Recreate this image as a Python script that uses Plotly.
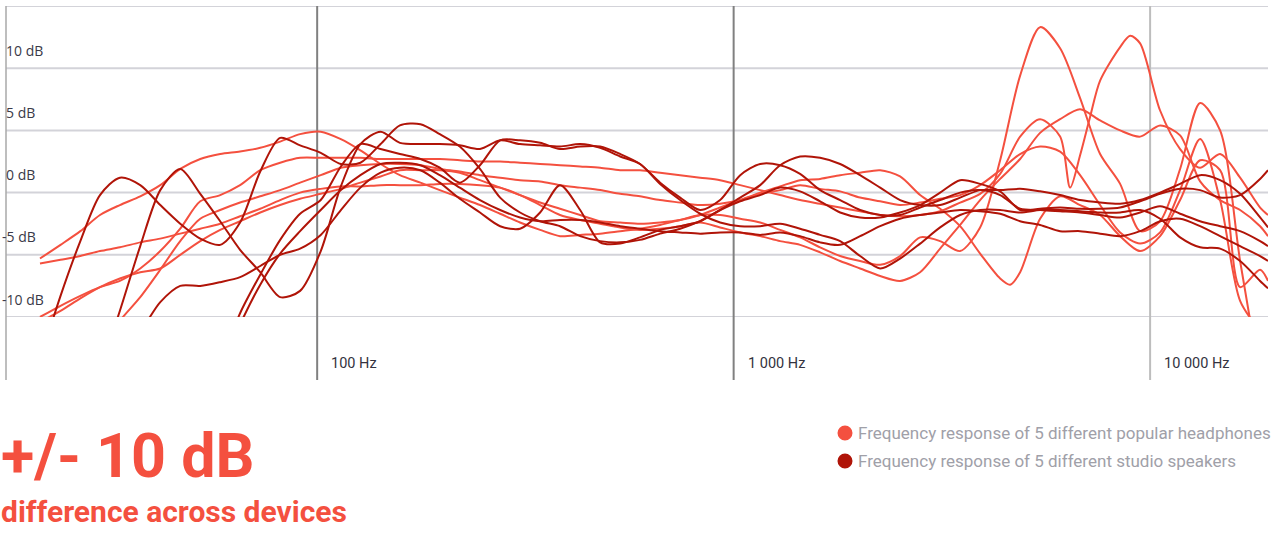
import numpy as np
import plotly.graph_objects as go

# ---------------- data ----------------
FREQ_HZ = [21.6, 24.2, 27, 30.1, 33.6, 37.6, 42, 46.9, 52.4, 58.5, 65.3, 73, 81.5, 91,
           102, 114, 127, 142, 158, 177, 197, 220, 246, 275, 307, 343, 383, 428, 478,
           534, 596, 666, 744, 831, 928, 1037, 1158, 1293, 1444, 1613, 1802, 2012,
           2248, 2510, 2804, 3132, 3498, 3907, 4364, 4874, 5443, 6080, 6790, 7585,
           8472, 9462, 10568, 11804, 13184, 14725, 16447, 18370, 19190]

# headphones (dB)
H1_DB = [-5.3, -4.2, -3.1, -1.8, -1.0, -0.3, 0.6, 1.9, 2.7, 3.1, 3.3, 3.6, 4.1, 4.7, 4.9, 4.3,
         3.4, 2.3, 1.4, 0.8, 0.2, -0.4, -1.0, -1.7, -2.4, -3.0, -3.5, -3.4, -3.3, -3.1, -2.9,
         -2.6, -2.2, -1.8, -1.8, -2.1, -2.4, -3.0, -3.6, -4.4, -5.1, -5.5, -5.8, -5.1, -3.6,
         -3.9, -4.7, -2.8, 2.6, 9.4, 13.3, 11.6, 7.6, 3.1, 0.7, -3.1, -2.3, 1.9, 7.2, 5.0,
         -5.5, -15.0, None]
H2_DB = [-5.7, -5.4, -5.1, -4.7, -4.4, -4.0, -3.7, -3.3, -2.9, -2.5, -1.9, -1.3, -0.6, 0.0,
         0.3, 0.5, 0.5, 0.6, 0.6, 0.6, 0.7, 0.7, 0.6, 0.4, -0.2, -1.0, -1.8, -2.2, -2.5, -2.8,
         -3.0, -2.9, -2.7, -2.4, -2.8, -3.2, -3.5, -3.9, -4.2, -4.8, -5.5, -6.1, -6.7, -7.1,
         -6.4, -4.5, -2.6, -0.6, 1.1, 2.7, 4.8, 5.9, 6.7, 5.8, 5.0, 4.5, 5.4, 4.6, 0.9, -0.6,
         -1.4, -2.7, -3.5]
H3_DB = [-10.0, -9.1, -8.3, -7.6, -7.1, -6.1, -4.7, -2.9, -0.7, -0.2, 0.6, 1.8, 2.4, 2.8, 2.8,
         2.8, 2.8, 2.7, 2.7, 2.7, 2.7, 2.6, 2.5, 2.5, 2.4, 2.3, 2.2, 2.1, 2.0, 1.8, 1.8, 1.6,
         1.4, 1.2, 1.0, 0.6, 0.2, -0.2, -0.6, -0.9, -1.2, -1.5, -1.8, -1.9, -1.8, -1.5, -0.8,
         -0.1, 1.5, 4.5, 5.9, 4.5, 3.0, 9.0, 11.7, 12.0, 6.6, 3.5, 2.0, 3.1, 1.2, -1.2, -1.8]
H3_EXTRA_HZ = [6427, 7178, 8954]
H3_EXTRA_DB = [0.4, 6.1, 12.6]
H4_DB = [-10.4, -9.5, -8.5, -7.6, -6.9, -6.4, -6.1, -5.0, -3.9, -3.0, -2.3, -1.6, -1.0, -0.5,
         -0.1, 0.3, 0.8, 1.3, 1.8, 1.8, 1.8, 1.6, 1.0, 0.4, -0.2, -0.8, -1.3, -1.8, -2.3, -2.4,
         -2.5, -2.4, -2.2, -1.8, -1.2, -0.6, 0.0, 0.5, 1.0, 1.1, 1.4, 1.6, 1.8, 1.3, -0.2, -1.3,
         -2.7, -4.9, -6.9, -6.4, -2.1, -0.3, -1.0, -1.8, -3.5, -4.7, -3.5, -0.6, 2.6, 1.8, -7.6,
         -6.2, -7.1]
H4_EXTRA_HZ = [4613]
H4_EXTRA_DB = [-7.4]
H5_DB = [None, None, None, -12.7, -10.3, -8.4, -6.2, -3.9, -2.1, -1.4, -0.8, -0.3, 0.2, 0.8,
         1.4, 2.0, 2.2, 2.3, 2.3, 2.2, 1.9, 1.7, 1.4, 1.2, 1.0, 0.9, 0.6, 0.4, 0.2, -0.1, -0.3,
         -0.6, -0.8, -1.0, -0.9, -0.6, -0.1, 0.2, 0.6, 0.3, 0.1, -0.4, -0.7, -1.0, -0.8, -0.5,
         -0.2, 0.6, 1.8, 3.1, 3.7, 3.3, 1.4, -1.0, -3.2, -4.1, -3.2, 0.2, 4.3, -0.6, -8.7,
         -11.1, None]

# studio speakers (dB)
S1_DB = [-13.5, -8.3, -3.9, -0.2, 1.2, 0.6, -1.0, -2.5, -3.7, -4.2, -2.4, 1.7, 4.4, 3.8, 3.2,
         2.3, 2.4, 3.9, 5.4, 5.5, 4.7, 3.7, 1.9, -0.4, -1.6, -2.3, -2.7, -3.5, -3.9, -4.0, -3.8,
         -3.3, -2.9, -2.3, -1.4, -0.7, -0.2, 0.4, 0.1, -0.7, -1.6, -2.0, -2.0, -1.6, -1.0, 0.0,
         1.0, 0.7, 0.1, -1.4, -1.3, -1.2, -1.3, -1.3, -1.2, -0.7, -0.1, 0.3, 0.2, -0.4, -0.2,
         1.1, 1.8]
S2_DB = [None, None, None, -14.3, -9.5, -4.3, 0.2, 1.9, -0.1, -2.3, -4.6, -6.4, -8.4, -7.9,
         -4.7, 0.5, 3.9, 4.9, 4.0, 3.9, 3.9, 3.8, 3.5, 4.2, 3.9, 3.8, 3.7, 3.9, 3.6, 2.9, 2.3,
         0.7, -0.6, -1.7, -2.4, -2.7, -2.7, -2.5, -2.9, -3.4, -3.9, -5.1, -6.1, -5.3, -4.1,
         -2.8, -1.8, -1.4, -1.4, -1.6, -1.4, -1.4, -1.5, -1.6, -1.6, -1.4, -2.1, -3.6, -4.4,
         -4.5, -5.5, -7.1, -7.7]
S3_DB = [None, None, None, None, -12.3, -11.1, -8.8, -7.5, -7.5, -7.2, -6.8, -5.9, -5.0, -4.5,
         -3.4, -1.4, 0.4, 1.6, 2.0, 1.8, 0.8, -0.5, -1.6, -2.7, -2.9, -1.6, 0.6, -1.4, -4.0,
         -4.1, -3.6, -3.0, -2.7, -2.3, -1.4, -0.4, 0.6, 2.2, 2.9, 2.8, 2.3, 1.4, 0.4, -0.6,
         -1.0, -1.0, -0.4, 0.2, 0.2, 0.3, 0.1, -0.2, -0.6, -0.8, -0.9, -0.6, 0.0, 0.7, 1.4,
         1.0, -0.1, -2.0, -2.8]
S4_DB = [None] * 9 + [-13.9, -9.7, -6.6, -3.8, -1.7, -0.6, 2.1, 3.9, 3.5, 3.1, 2.7, 2.0, 0.8,
         2.2, 4.2, 4.2, 4.0, 3.5, 3.7, 3.7, 3.1, 2.3, 0.8, -0.4, -1.4, -0.6, 1.4, 2.3, 2.2, 1.5,
         0.2, -0.6, -1.4, -1.8, -1.8, -1.2, -0.6, 0.0, 0.2, -0.2, -1.3, -1.4, -1.5, -1.6, -1.8,
         -2.0, -1.6, -1.1, -1.7, -2.3, -2.7, -3.1, -3.9, -4.3]
S5_DB = [None] * 9 + [-14.3, -10.6, -7.4, -4.9, -3.1, -1.4, 0.2, 1.4, 2.3, 2.4, 2.2, 1.4, 0.4,
         -0.6, -1.4, -2.0, -2.3, -2.2, -2.2, -2.4, -2.7, -2.9, -3.1, -3.2, -3.3, -3.2, -3.2,
         -3.4, -3.2, -3.5, -4.0, -4.2, -3.5, -2.7, -2.1, -1.8, -1.6, -1.4, -1.5, -1.7, -2.3,
         -2.6, -3.1, -3.1, -3.3, -3.5, -3.1, -2.3, -2.1, -2.7, -3.5, -4.3, -5.1, -5.5]

DB_TICKS = [10, 5, 0, -5, -10]
DB_TICK_TEXT = ["10 dB", "5 dB", "0 dB", "-5 dB", "-10 dB"]
HZ_TICKS = [100, 1000, 10000]
HZ_TICK_TEXT = ["100 Hz", "1 000 Hz", "10 000 Hz"]
LEGEND_TEXT = ["Frequency response of 5 different popular headphones",
               "Frequency response of 5 different studio speakers"]
HEADLINE = "+/- 10 dB"
SUBLINE = "difference across devices"

# ---------------- style ----------------
C_HEAD = "#f4503f"
C_SPK = "#b01408"
W, H = 1279, 537
ML, MR, MT, MB = 6, 11, 6, 220
PLOT_W = W - ML - MR
PLOT_H = H - MT - MB
X_RANGE = [np.log10(17.9), np.log10(19190)]
Y_RANGE = [-10, 15]


def px_to_paper_x(px):
    return (px - ML) / PLOT_W


def px_to_paper_y(py):
    return (H - MB - py) / PLOT_H


def merged(base_f, base_v, extra_f=(), extra_v=()):
    pts = [(f, v) for f, v in zip(base_f, base_v)] + list(zip(extra_f, extra_v))
    pts.sort(key=lambda p: p[0])
    return [p[0] for p in pts], [p[1] for p in pts]


for arr in (H1_DB, H2_DB, H3_DB, H4_DB, H5_DB, S1_DB, S2_DB, S3_DB, S4_DB, S5_DB):
    assert len(arr) == len(FREQ_HZ), len(arr)

fig = go.Figure()

head_series = [
    merged(FREQ_HZ, H1_DB),
    merged(FREQ_HZ, H2_DB),
    merged(FREQ_HZ, H3_DB, H3_EXTRA_HZ, H3_EXTRA_DB),
    merged(FREQ_HZ, H4_DB, H4_EXTRA_HZ, H4_EXTRA_DB),
    merged(FREQ_HZ, H5_DB),
]
spk_series = [merged(FREQ_HZ, s) for s in (S1_DB, S2_DB, S3_DB, S4_DB, S5_DB)]

for f, v in head_series:
    fig.add_trace(go.Scatter(x=f, y=v, mode="lines",
                             line=dict(color=C_HEAD, width=2, shape="spline", smoothing=0.8),
                             hoverinfo="skip", showlegend=False))
for f, v in spk_series:
    fig.add_trace(go.Scatter(x=f, y=v, mode="lines",
                             line=dict(color=C_SPK, width=2, shape="spline", smoothing=0.8),
                             hoverinfo="skip", showlegend=False))

shapes = []
for v in [-10, -5, 0, 5, 10, 15]:
    shapes.append(dict(type="line", xref="paper", x0=0, x1=1, yref="y", y0=v, y1=v,
                       line=dict(color="#d3d3d9", width=2), layer="below"))
y_bottom = px_to_paper_y(380)
shapes.append(dict(type="line", xref="paper", x0=0, x1=0, yref="paper", y0=y_bottom, y1=1,
                   line=dict(color="#a8a8a8", width=1.5), layer="below"))
for hz, col in zip(HZ_TICKS, ["#808080", "#808080", "#bdbdbd"]):
    shapes.append(dict(type="line", xref="x", x0=hz, x1=hz, yref="paper", y0=y_bottom, y1=1,
                       line=dict(color=col, width=2), layer="below"))
# legend dots
for i, col in enumerate([C_HEAD, C_SPK]):
    cy = px_to_paper_y(433 + 28 * i)
    shapes.append(dict(type="circle", xref="paper", xsizemode="pixel", xanchor=px_to_paper_x(845),
                       x0=-7.5, x1=7.5, yref="paper", ysizemode="pixel", yanchor=cy, y0=-7.5, y1=7.5,
                       fillcolor=col, line=dict(width=0)))

ann = []
for v, t in zip(DB_TICKS, DB_TICK_TEXT):
    ann.append(dict(text=t, xref="paper", x=0, xanchor="left", xshift=(-2 if v >= 0 else -6),
                    yref="y", y=v, yanchor="middle", yshift=18, showarrow=False,
                    font=dict(family="Open Sans", size=14, color="#3a3a48")))
for hz, t in zip(HZ_TICKS, HZ_TICK_TEXT):
    ann.append(dict(text=t, xref="x", x=np.log10(hz), xanchor="left", xshift=12,
                    yref="paper", y=px_to_paper_y(363), yanchor="middle", showarrow=False,
                    font=dict(family="Roboto", size=14.5, color="#333340")))
ann.append(dict(text=HEADLINE, xref="paper", x=px_to_paper_x(-1), xanchor="left",
                yref="paper", y=px_to_paper_y(456), yanchor="middle", showarrow=False,
                font=dict(family="Roboto", size=61, color=C_HEAD, weight="bold")))
ann.append(dict(text=SUBLINE, xref="paper", x=px_to_paper_x(-1), xanchor="left",
                yref="paper", y=px_to_paper_y(511), yanchor="middle", showarrow=False,
                font=dict(family="Roboto", size=30, color=C_HEAD, weight="bold")))
for i, t in enumerate(LEGEND_TEXT):
    ann.append(dict(text=t, xref="paper", x=px_to_paper_x(856), xanchor="left",
                    yref="paper", y=px_to_paper_y(433 + 28 * i), yanchor="middle", showarrow=False,
                    font=dict(family="Roboto", size=17, color="#a0a0a8")))

fig.update_layout(
    width=W, height=H, autosize=False,
    margin=dict(l=ML, r=MR, t=MT, b=MB, pad=0),
    paper_bgcolor="white", plot_bgcolor="white",
    showlegend=False, hovermode=False,
    xaxis=dict(type="log", range=X_RANGE, showgrid=False, zeroline=False, showline=False,
               showticklabels=False, ticks="", fixedrange=True),
    yaxis=dict(range=Y_RANGE, showgrid=False, zeroline=False, showline=False,
               showticklabels=False, ticks="", fixedrange=True),
    shapes=shapes, annotations=ann,
)

fig.write_html("out.html", config={"displayModeBar": False, "staticPlot": True},
               post_script="document.body.style.margin='0';document.body.style.overflow='hidden';")
